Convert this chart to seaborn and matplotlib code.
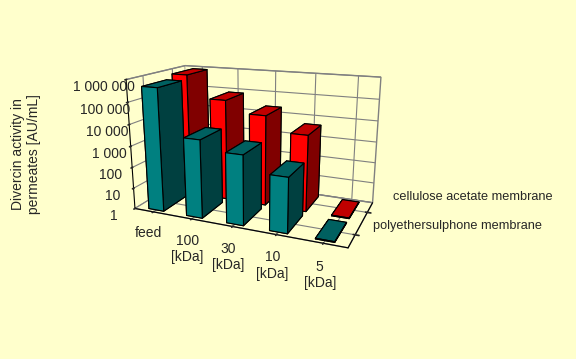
import numpy as np
import matplotlib
matplotlib.use("Agg")
import matplotlib.pyplot as plt
import seaborn as sns

# data (AU/mL, log scale)
categories = ["feed", "100\n[kDa]", "30\n[kDa]", "10\n[kDa]", "5\n[kDa]"]
membranes = ["polyethersulphone membrane", "cellulose acetate membrane"]
pes_activity = [500000, 4000, 1500, 300, 1]
ca_activity = [800000, 70000, 20000, 4000, 1]
z_ticklabels = ["1", "10", "100", "1 000", "10 000", "100 000", "1 000 000"]

bg = "#ffffcc"
sns.set_theme(style="white", rc={"grid.color": "#808080", "grid.linewidth": 0.8})
plt.rcParams["font.family"] = ["Liberation Sans", "DejaVu Sans"]

fig = plt.figure(figsize=(5.76, 3.59), dpi=100, facecolor=bg)
ax = fig.add_axes([0.125, 0.085, 0.62, 1.0], projection="3d")
ax.set_facecolor(bg)

# face colours: order of bar3d faces is -z, +z, -y, +y, -x, +x
shades = {
    0: ["#006060", "#006060", "#008080", "#008080", "#008080", "#004040"],
    1: ["#c00000", "#c00000", "#ff0000", "#ff0000", "#ff0000", "#800000"],
}

xs, ys, dzs, cols = [], [], [], []
for j, vals in enumerate([pes_activity, ca_activity]):
    for i, v in enumerate(vals):
        xs.append(i - 0.2)
        ys.append(j - 0.4)
        dzs.append(max(np.log10(v), 0.03))
        cols += shades[j]

ax.bar3d(xs, ys, np.zeros(len(xs)), 0.4, 0.8, dzs, color=cols,
         shade=False, edgecolor="black", linewidth=0.8)

ax.set_xlim(-0.5, 4.5)
ax.set_ylim(-0.5, 1.5)
ax.set_zlim(0, 6)
ax.set_proj_type("persp", focal_length=0.27)
ax.set_box_aspect((5, 2.5, 3.0), zoom=0.76)
ax.view_init(elev=16, azim=-67)

ax.set_xticks(range(len(categories)))
ax.set_xticklabels(categories, fontsize=10)
ax.set_yticks([0, 1])
ax.set_yticklabels([])
ax.set_zticks(range(len(z_ticklabels)))
ax.set_zticklabels(z_ticklabels, fontsize=10)
ax.zaxis.set_ticks_position("lower")

for axis in (ax.xaxis, ax.yaxis, ax.zaxis):
    axis.set_pane_color(bg)
    axis.pane.set_edgecolor("#808080")
    axis.line.set_color("black")
    axis.line.set_linewidth(0.8)

# series names sit to the right of the floor, as in the original
fig.text(0.648, 0.371, membranes[0], fontsize=9.2, ha="left", va="center")
fig.text(0.682, 0.451, membranes[1], fontsize=9.2, ha="left", va="center")

fig.text(0.045, 0.57, "Divercin activity in\npermeates [AU/mL]", rotation=90,
         ha="center", va="center", fontsize=10)

fig.savefig("out.png", dpi=100, facecolor=bg)
